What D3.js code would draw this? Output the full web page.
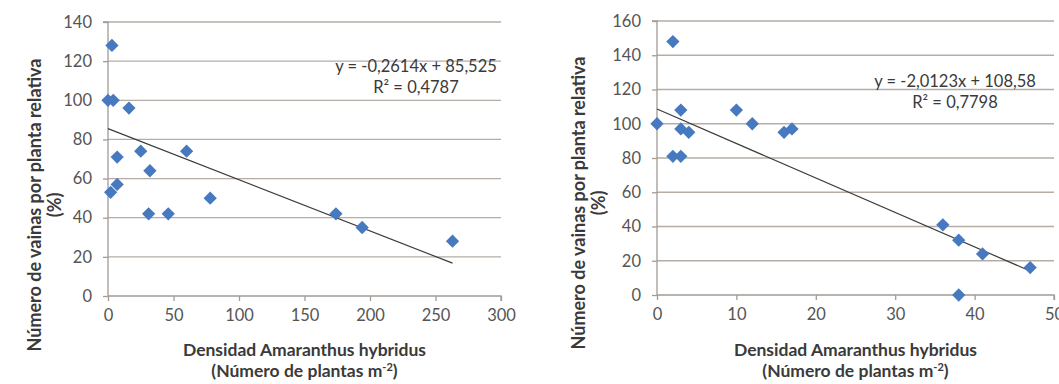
<!DOCTYPE html>
<html>
<head>
<meta charset="utf-8">
<script src="https://cdn.jsdelivr.net/npm/d3@7"></script>
<style>
  html, body { margin: 0; padding: 0; background: #fff; }
  svg { display: block; font-family: Lato, "Open Sans", sans-serif; }
</style>
</head>
<body>
<div id="chart"></div>
<script>
// Panel A: densidad 0-300 plantas m-2
const densidadA = [0, 3, 4, 16, 25, 60, 7, 32, 7, 2, 31, 46, 78, 174, 194, 263];
const vainasA = [100, 128, 100, 96, 74, 74, 71, 64, 57, 53, 42, 42, 50, 42, 35, 28];
const xTicksA = [0, 50, 100, 150, 200, 250, 300];
const yTicksA = [0, 20, 40, 60, 80, 100, 120, 140];
const trendA = { slope: -0.2614, intercept: 85.525 };
const equationA = ['y = -0,2614x + 85,525', 'R² = 0,4787'];

// Panel B: densidad 0-50 plantas m-2
const densidadB = [0, 2, 3, 3, 4, 2, 3, 10, 12, 16, 17, 36, 38, 41, 47, 38];
const vainasB = [100, 148, 108, 97, 95, 81, 81, 108, 100, 95, 97, 41, 32, 24, 16, 0];
const xTicksB = [0, 10, 20, 30, 40, 50];
const yTicksB = [0, 20, 40, 60, 80, 100, 120, 140, 160];
const trendB = { slope: -2.0123, intercept: 108.58 };
const equationB = ['y = -2,0123x + 108,58', 'R² = 0,7798'];

const yTitle = ['Número de vainas por planta relativa', '(%)'];
const xTitle = 'Densidad Amaranthus hybridus';

const width = 1059;
const height = 384;

const gridColor = '#b5ada6';
const axisColor = '#a39b95';
const tickTextColor = '#555555';
const titleColor = '#3a3a3a';
const pointColor = '#4679bf';

const svg = d3.select('#chart')
  .append('svg')
  .attr('width', width)
  .attr('height', height);

/**
 * Draw one scatter panel with its trend line
 * @param {Object} params panel settings
 */
function drawPanel(params) {
  const {
    xs, ys, xTicks, yTicks, xRange, yRange, trend, equation,
    eqX, eqY, yTitleX, yTitleY
  } = params;

  const g = svg.append('g');

  const xScale = d3.scaleLinear()
    .domain([xTicks[0], xTicks[xTicks.length - 1]])
    .range(xRange);
  const yScale = d3.scaleLinear()
    .domain([yTicks[0], yTicks[yTicks.length - 1]])
    .range(yRange);

  // horizontal gridlines
  g.append('g')
    .selectAll('line')
    .data(yTicks.slice(1))
    .enter()
    .append('line')
    .attr('x1', xRange[0])
    .attr('x2', xRange[1])
    .attr('y1', d => yScale(d))
    .attr('y2', d => yScale(d))
    .attr('stroke', gridColor)
    .attr('stroke-width', 1.3);

  // y axis
  const yAxis = g.append('g')
    .attr('transform', `translate(${xRange[0]},0)`)
    .call(d3.axisLeft(yScale).tickValues(yTicks).tickSize(5).tickPadding(11));

  // x axis
  const xAxis = g.append('g')
    .attr('transform', `translate(0,${yRange[0]})`)
    .call(d3.axisBottom(xScale).tickValues(xTicks).tickSize(5).tickPadding(8));

  [xAxis, yAxis].forEach(ax => {
    ax.select('.domain').attr('stroke', axisColor).attr('stroke-width', 1.3);
    ax.selectAll('.tick line').attr('stroke', axisColor).attr('stroke-width', 1.3);
    ax.selectAll('.tick text')
      .attr('fill', tickTextColor)
      .style('font-family', 'Lato, sans-serif')
      .style('font-size', '16.5px');
  });
  // x axis domain without outer ticks sticking up
  xAxis.select('.domain').attr('d', `M${xRange[0]},0H${xRange[1]}V5`);
  yAxis.select('.domain').attr('d', `M-5,${yRange[1]}H0V${yRange[0]}`);

  // trend line over the data range
  const xMax = d3.max(xs);
  g.append('line')
    .attr('x1', xScale(0))
    .attr('y1', yScale(trend.intercept))
    .attr('x2', xScale(xMax))
    .attr('y2', yScale(trend.slope * xMax + trend.intercept))
    .attr('stroke', '#3c3c3c')
    .attr('stroke-width', 1.2);

  // diamond markers
  const diamond = d3.symbol().type(d3.symbolSquare).size(88);
  g.append('g')
    .selectAll('path')
    .data(xs.map((x, i) => [x, ys[i]]))
    .enter()
    .append('path')
    .attr('d', diamond)
    .attr('transform', d => `translate(${xScale(d[0])},${yScale(d[1])}) rotate(45)`)
    .attr('fill', pointColor);

  // regression equation
  g.append('text')
    .attr('x', eqX)
    .attr('y', eqY)
    .attr('text-anchor', 'middle')
    .attr('fill', titleColor)
    .style('font-size', '16.5px')
    .selectAll('tspan')
    .data(equation)
    .enter()
    .append('tspan')
    .attr('x', eqX)
    .attr('dy', (d, i) => i === 0 ? 0 : 21)
    .text(d => d);

  // x axis title
  const xMid = (xRange[0] + xRange[1]) / 2;
  g.append('text')
    .attr('x', xMid)
    .attr('y', 356)
    .attr('text-anchor', 'middle')
    .attr('fill', titleColor)
    .style('font-size', '17.5px')
    .style('font-weight', 'bold')
    .text(xTitle);

  const sub = g.append('text')
    .attr('x', xMid)
    .attr('y', 377)
    .attr('text-anchor', 'middle')
    .attr('fill', titleColor)
    .style('font-size', '17.5px')
    .style('font-weight', 'bold');
  sub.append('tspan').text('(Número de plantas m');
  sub.append('tspan').attr('dy', -6).style('font-size', '11px').text('-2');
  sub.append('tspan').attr('dy', 6).text(')');

  // y axis title (two rotated lines)
  g.append('g')
    .attr('transform', `translate(${yTitleX},${yTitleY}) rotate(-90)`)
    .selectAll('text')
    .data(yTitle)
    .enter()
    .append('text')
    .attr('x', 0)
    .attr('y', (d, i) => i * 20)
    .attr('text-anchor', 'middle')
    .attr('fill', titleColor)
    .style('font-size', '18px')
    .style('font-weight', 'bold')
    .text(d => d);
}

drawPanel({
  xs: densidadA, ys: vainasA, xTicks: xTicksA, yTicks: yTicksA,
  xRange: [108, 501], yRange: [296, 22],
  trend: trendA, equation: equationA,
  eqX: 416, eqY: 72, yTitleX: 41, yTitleY: 205
});

drawPanel({
  xs: densidadB, ys: vainasB, xTicks: xTicksB, yTicks: yTicksB,
  xRange: [657, 1054], yRange: [295, 21],
  trend: trendB, equation: equationB,
  eqX: 955, eqY: 87, yTitleX: 585, yTitleY: 203
});
</script>
</body>
</html>
